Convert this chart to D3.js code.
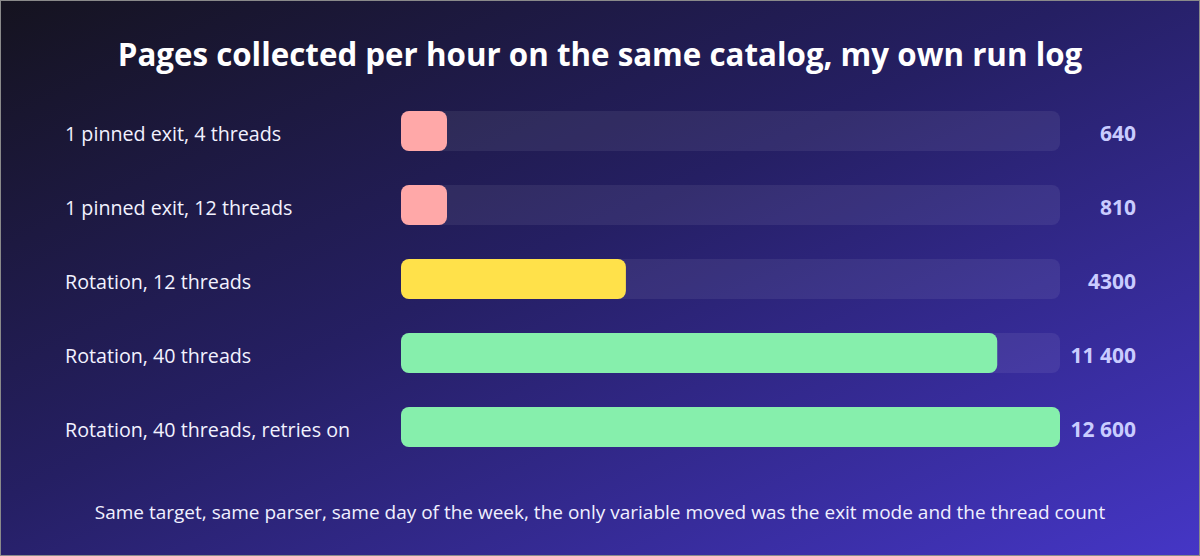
<!DOCTYPE html>
<html>
<head>
<meta charset="utf-8">
<script src="https://cdn.jsdelivr.net/npm/d3@7"></script>
<style>
  html, body { margin: 0; padding: 0; background: #16142a; }
  svg { display: block; font-family: "Segoe UI", "Open Sans", "Noto Sans", sans-serif; }
</style>
</head>
<body>
<main></main>
<script>
const categories = [
    "1 pinned exit, 4 threads",
    "1 pinned exit, 12 threads",
    "Rotation, 12 threads",
    "Rotation, 40 threads",
    "Rotation, 40 threads, retries on"
];
const pagesPerHour = [640, 810, 4300, 11400, 12600];
const barColors = ["#ffa8a8", "#ffa8a8", "#ffe14a", "#86efac", "#86efac"];
const valueLabels = ["640", "810", "4300", "11 400", "12 600"];

const width = 1200;
const height = 556;

const svg = d3.select("main")
    .append("svg")
    .attr("width", width)
    .attr("height", height);

// background gradient
const defs = svg.append("defs");
const grad = defs.append("linearGradient")
    .attr("id", "bg")
    .attr("x1", "0%").attr("y1", "0%")
    .attr("x2", "100%").attr("y2", "100%");
grad.append("stop").attr("offset", "0%").attr("stop-color", "#15131f");
grad.append("stop").attr("offset", "45%").attr("stop-color", "#251f63");
grad.append("stop").attr("offset", "100%").attr("stop-color", "#4536c6");

svg.append("rect")
    .attr("x", 0.5).attr("y", 0.5)
    .attr("width", width - 1).attr("height", height - 1)
    .attr("fill", "url(#bg)")
    .attr("stroke", "#8a8a8a")
    .attr("stroke-width", 1);

const xScale = d3.scaleLinear()
    .domain([0, d3.max(pagesPerHour)])
    .range([401, 1060]);

const yScale = d3.scaleBand()
    .domain(categories)
    .range([94, 464])
    .paddingInner(0.46)
    .paddingOuter(0.23);

const minWidth = 46;

// title
svg.append("text")
    .attr("x", width / 2)
    .attr("y", 66)
    .attr("text-anchor", "middle")
    .attr("fill", "#ffffff")
    .style("font-size", "31.3px")
    .style("font-weight", "700")
    .text("Pages collected per hour on the same catalog, my own run log");

const rows = svg.selectAll(".row")
    .data(categories)
    .enter()
    .append("g")
    .attr("class", "row");

// track
rows.append("rect")
    .attr("x", xScale(0))
    .attr("y", d => yScale(d))
    .attr("width", xScale.range()[1] - xScale.range()[0])
    .attr("height", yScale.bandwidth())
    .attr("rx", 8)
    .attr("fill", "#ffffff")
    .attr("fill-opacity", 0.07);

// bars
rows.append("rect")
    .attr("x", xScale(0))
    .attr("y", d => yScale(d))
    .attr("width", (d, i) => Math.max(minWidth, xScale(pagesPerHour[i]) - xScale(0)))
    .attr("height", yScale.bandwidth())
    .attr("rx", 8)
    .attr("fill", (d, i) => barColors[i]);

// category labels
rows.append("text")
    .attr("x", 65)
    .attr("y", d => yScale(d) + yScale.bandwidth() / 2 + 3)
    .attr("dy", "0.35em")
    .attr("fill", "#f2f2ff")
    .style("font-size", "19.7px")
    .text(d => d);

// value labels
rows.append("text")
    .attr("x", 1136)
    .attr("y", d => yScale(d) + yScale.bandwidth() / 2 + 3)
    .attr("dy", "0.35em")
    .attr("text-anchor", "end")
    .attr("fill", "#c9ccff")
    .style("font-size", "21px")
    .style("font-weight", "700")
    .text((d, i) => valueLabels[i]);

// footnote
svg.append("text")
    .attr("x", width / 2)
    .attr("y", 519)
    .attr("text-anchor", "middle")
    .attr("fill", "#f0f0ff")
    .style("font-size", "19px")
    .text("Same target, same parser, same day of the week, the only variable moved was the exit mode and the thread count");
</script>
</body>
</html>
